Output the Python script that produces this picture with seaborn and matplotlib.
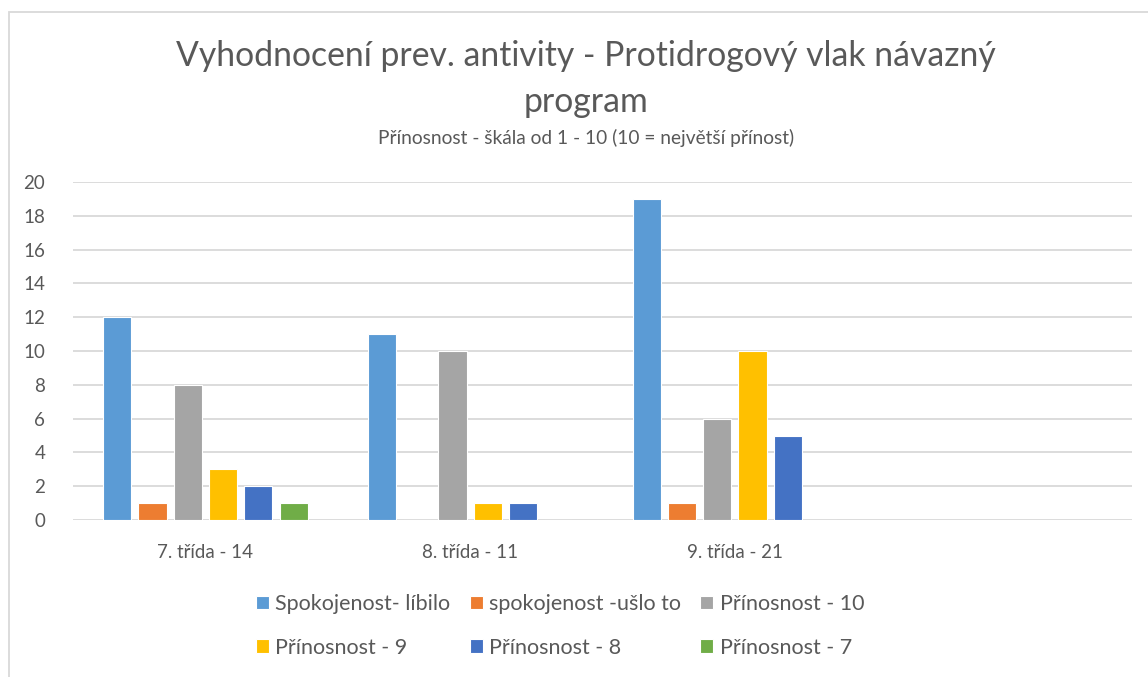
import matplotlib

matplotlib.use("Agg")
import matplotlib.pyplot as plt
import seaborn as sns
import pandas as pd
from matplotlib.patches import Rectangle

# data
categories = ["7. třída - 14", "8. třída - 11", "9. třída - 21", ""]
series = [
    "Spokojenost- líbilo",
    "spokojenost -ušlo to",
    "Přínosnost - 10",
    "Přínosnost - 9",
    "Přínosnost - 8",
    "Přínosnost - 7",
]
values_7 = [12, 1, 8, 3, 2, 1]
values_8 = [11, 0, 10, 1, 1, 0]
values_9 = [19, 1, 6, 10, 5, 0]
y_ticks = [0, 2, 4, 6, 8, 10, 12, 14, 16, 18, 20]

colors = ["#5B9BD5", "#ED7D31", "#A5A5A5", "#FFC000", "#4472C4", "#70AD47"]
text_color = "#595959"
grid_color = "#D9D9D9"

# long-form table for seaborn
rows = []
for cat, vals in zip(categories[:3], [values_7, values_8, values_9]):
    for name, v in zip(series, vals):
        rows.append({"trida": cat, "rada": name, "pocet": v})
df = pd.DataFrame(rows)

sns.set_theme(style="white")
plt.rcParams["font.family"] = ["Lato", "DejaVu Sans"]

W, H = 1148, 677
fig = plt.figure(figsize=(W / 100, H / 100), dpi=100)
ax = fig.add_axes([73 / W, 1 - 520 / H, (1132 - 73) / W, (520 - 182) / H])

sns.barplot(
    data=df,
    x="trida",
    y="pocet",
    hue="rada",
    order=categories,
    hue_order=series,
    palette=colors,
    saturation=1,
    width=0.8,
    gap=0.2,
    edgecolor="white",
    linewidth=0.8,
    ax=ax,
    legend=True,
)

ax.set_xlim(-0.5, len(categories) - 0.5)
ax.set_ylim(0, 20)
ax.set_yticks(y_ticks)
ax.set_xlabel("")
ax.set_ylabel("")
ax.yaxis.grid(True, color=grid_color, linewidth=1.3)
ax.set_axisbelow(True)
for side in ["left", "right", "top", "bottom"]:
    ax.spines[side].set_visible(False)
ax.tick_params(axis="both", length=0, labelsize=13.5, colors=text_color)
ax.tick_params(axis="y", pad=20)
ax.tick_params(axis="x", pad=17)

# legend in 3 columns, filled row-wise like the original
handles, labels = ax.get_legend_handles_labels()
ax.get_legend().remove()
idx = [0, 3, 1, 4, 2, 5]
fig.legend(
    [handles[i] for i in idx],
    [labels[i] for i in idx],
    ncol=3,
    loc="center",
    bbox_to_anchor=(560 / W, 1 - 626 / H),
    frameon=False,
    fontsize=15.5,
    handlelength=0.6,
    handleheight=0.6,
    handletextpad=0.3,
    columnspacing=0.9,
    labelspacing=1.1,
    labelcolor=text_color,
)

# titles
fig.text(
    586 / W,
    1 - 79 / H,
    "Vyhodnocení prev. antivity - Protidrogový vlak návazný\nprogram",
    ha="center",
    va="center",
    fontsize=24.3,
    color=text_color,
    linespacing=1.5,
)
fig.text(
    586 / W,
    1 - 138 / H,
    "Přínosnost - škála od 1 - 10 (10 = největší přínost)",
    ha="center",
    va="center",
    fontsize=13.8,
    color=text_color,
)

# chart area border
fig.patches.append(
    Rectangle(
        (9 / W, -0.1),
        1.2,
        1 - 12 / H + 0.1,
        transform=fig.transFigure,
        fill=False,
        edgecolor=grid_color,
        linewidth=1.3,
    )
)

fig.savefig("out.png", dpi=100)
